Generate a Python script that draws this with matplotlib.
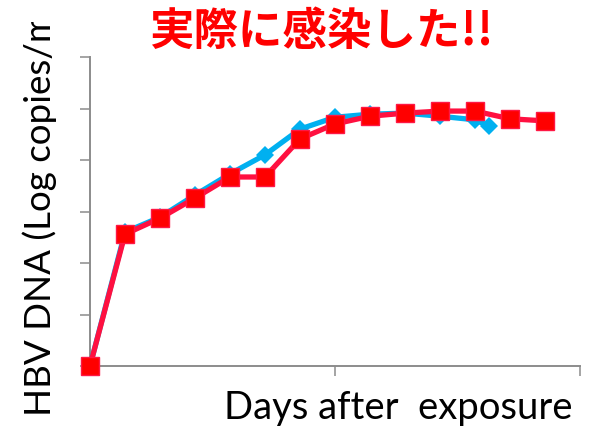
import matplotlib
matplotlib.use("Agg")
import matplotlib.pyplot as plt
from matplotlib.patches import Rectangle

# HBV DNA after exposure, two courses (log copies/mL)
days_blue = [0, 1, 2, 3, 4, 5, 6, 7, 8, 9, 10, 11, 11.4]
dna_blue = [0, 2.60, 2.89, 3.32, 3.73, 4.10, 4.60, 4.83, 4.89, 4.91, 4.85, 4.78, 4.66]

days_red = [0, 1, 2, 3, 4, 5, 6, 7, 8, 9, 10, 11, 12, 13]
dna_red = [0, 2.56, 2.87, 3.26, 3.67, 3.67, 4.41, 4.70, 4.85, 4.91, 4.95, 4.95, 4.80, 4.76]

x_ticks = [0, 7, 14]
y_ticks = [0, 1, 2, 3, 4, 5, 6]

title = "実際に感染した!!"
x_label = "Days after  exposure"
y_label = "HBV DNA (Log copies/mL)"

W, H = 590, 428
fig = plt.figure(figsize=(W / 100, H / 100), dpi=100)
ax = fig.add_axes([90 / W, (H - 366) / H, (580 - 90) / W, (366 - 57) / H])

ax.plot(
    days_blue,
    dna_blue,
    color="#00B0F0",
    linewidth=3.8,
    marker="D",
    markersize=9,
    markeredgewidth=0,
    clip_on=False,
    zorder=3
)

ax.plot(
    days_red,
    dna_red,
    color="#FF1040",
    linewidth=3.8,
    marker="s",
    markersize=13.5,
    markerfacecolor="#FF0000",
    markeredgecolor="#FF1744",
    markeredgewidth=1,
    clip_on=False,
    zorder=4
)

ax.set_xlim(0, 14)
ax.set_ylim(0, 6)
ax.set_xticks(x_ticks)
ax.set_yticks(y_ticks)
ax.set_xticklabels([])
ax.set_yticklabels([])

for side in ["top", "right"]:
    ax.spines[side].set_visible(False)
for side in ["left", "bottom"]:
    ax.spines[side].set_color("#8c8c8c")
    ax.spines[side].set_linewidth(1.4)
ax.tick_params(
    direction="out",
    length=7,
    width=1.1,
    color="#8c8c8c"
)

fig.text(
    0.545,
    (H - 32) / H,
    title,
    color="#FF0000",
    fontsize=32,
    fontweight="bold",
    family=["Noto Sans CJK JP", "DejaVu Sans"],
    ha="center",
    va="center"
)

fig.text(
    398 / W,
    (H - 408) / H,
    x_label,
    fontsize=27.5,
    family="Lato",
    ha="center",
    va="center"
)

# y label runs off the top and is cut there
yl = fig.text(
    40 / W,
    (H - 416) / H,
    y_label,
    fontsize=26.5,
    family="Lato",
    rotation=90,
    ha="center",
    va="bottom"
)
yl.set_clip_path(
    Rectangle((0, 0), 1, (H - 22) / H, transform=fig.transFigure)
)

fig.savefig("out.png", dpi=100)
